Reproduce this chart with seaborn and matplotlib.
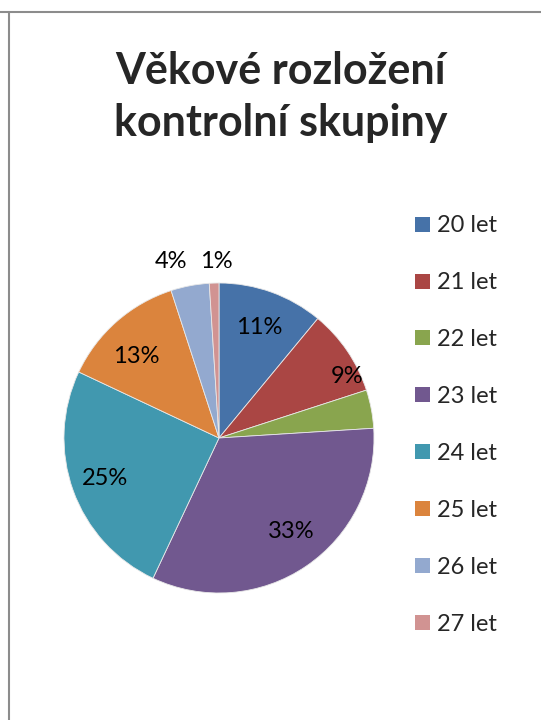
import matplotlib.pyplot as plt
import numpy as np
import seaborn as sns
from matplotlib.patches import Patch
from matplotlib.lines import Line2D

# Data
categories = ['20 let', '21 let', '22 let', '23 let', '24 let', '25 let', '26 let', '27 let']
percent = [11, 9, 4, 33, 25, 13, 4, 1]
show_label = [True, True, False, True, True, True, True, True]
# label placement (distance from centre in radii, angular shift in degrees, clockwise)
label_dist = [0.76, 0.92, 0.76, 0.76, 0.78, 0.75, 1.18, 1.14]
label_shift = [0, 8.5, 0, -3.5, 0, -4, -4.5, 1]
colors = ['#4672A8', '#AA4644', '#89A54E', '#71588F', '#4198AF', '#DB843D', '#93A9CF', '#D19392']

sns.set_theme(style='white')
plt.rcParams['font.family'] = ['Lato', 'DejaVu Sans']

fig = plt.figure(figsize=(5.41, 7.2), dpi=100)

# frame lines of the chart area
fig.add_artist(Line2D([0, 1], [1 - 12 / 720, 1 - 12 / 720], color='#8c8c8c', lw=1.5))
fig.add_artist(Line2D([9 / 541, 9 / 541], [0, 1 - 12 / 720], color='#8c8c8c', lw=1.5))

fig.text(281 / 541, 1 - 97 / 720, 'Věkové rozložení\nkontrolní skupiny', ha='center', va='center',
         fontsize=31, fontweight='bold', linespacing=1.38)

ax = fig.add_axes([(219 - 155) / 541, (720 - 438 - 155) / 720, 310 / 541, 310 / 720])
wedges, texts, autotexts = ax.pie(percent, colors=colors, startangle=90, counterclock=False,
                                  radius=1, autopct='%1.0f%%', pctdistance=1.0,
                                  wedgeprops=dict(edgecolor='#e8e8e8', linewidth=0.6),
                                  textprops=dict(fontsize=17, color='black'))
for t, w, d, sh, s in zip(autotexts, wedges, label_dist, label_shift, show_label):
    ang = np.deg2rad((w.theta1 + w.theta2) / 2 - sh)
    t.set_position((d * np.cos(ang), d * np.sin(ang)))
    t.set_visible(s)
ax.set_xlim(-1, 1)
ax.set_ylim(-1, 1)
ax.set_aspect('equal')
ax.axis('off')

handles = [Patch(facecolor=c, edgecolor='none') for c in colors]
fig.legend(handles, categories, loc='upper left', bbox_to_anchor=(406 / 541, 1 - 206 / 720),
           frameon=False, fontsize=17, handlelength=0.6, handleheight=0.6, handletextpad=0.3,
           labelspacing=1.52, borderaxespad=0)

fig.savefig('out.png', dpi=100)
